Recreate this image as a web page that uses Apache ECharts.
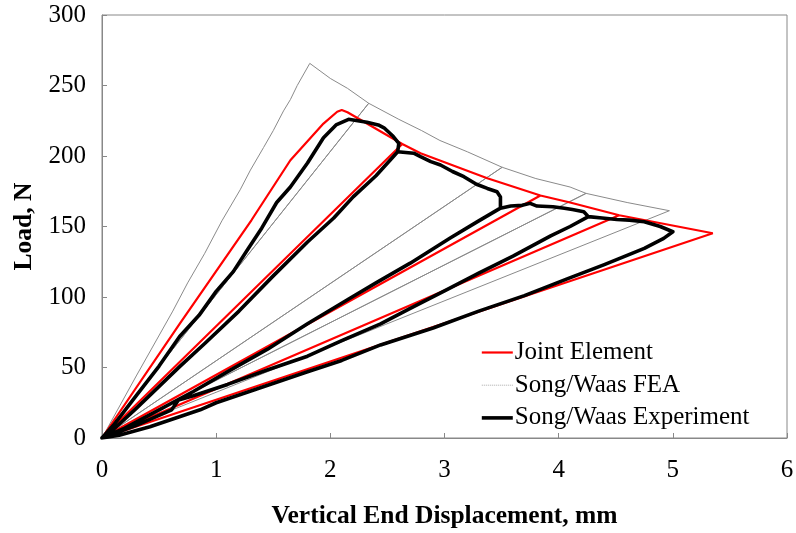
<!DOCTYPE html>
<html>
<head>
<meta charset="utf-8">
<script src="https://cdn.jsdelivr.net/npm/echarts@6/dist/echarts.min.js"></script>
<style>
  html, body { margin: 0; padding: 0; background: #fff; }
  #main { width: 796px; height: 533px; }
</style>
</head>
<body>
<div id="main"></div>
<script>
// axis ticks
var xTicks = [0, 1, 2, 3, 4, 5, 6];
var yTicks = [0, 50, 100, 150, 200, 250, 300];

// Joint Element (red) - load / unload cycles, [displacement mm, load N]
var jointElement = [
  [0, 0], [0.68, 81], [1.31, 154.6], [1.65, 197], [1.94, 223], [2.06, 231.4], [2.10, 232.6], [2.15, 231],
  [2.63, 208.5], [0, 0], [2.63, 208.5],
  [2.79, 202], [3.375, 184.2], [3.84, 172], [0, 0], [3.84, 172],
  [4.1, 167], [4.53, 158], [0, 0], [4.53, 158],
  [5.35, 145.2], [0, 0]
];

// Song/Waas FEA (thin grey)
var songWaasFea = [
  [0, 0], [0.3, 44], [0.62, 90], [0.75, 110], [0.9, 131], [1.05, 154], [1.21, 176], [1.3, 190],
  [1.415, 206], [1.5, 218], [1.59, 232], [1.65, 240], [1.71, 250], [1.82, 265.7],
  [2.0, 255], [2.15, 248], [2.336, 237.4], [0, 0], [2.336, 237.4],
  [2.6, 226], [2.8, 218], [2.96, 211], [3.2, 203], [3.505, 192], [0, 0], [3.505, 192],
  [3.8, 184], [4.1, 178], [4.24, 173.5], [0, 0], [4.24, 173.5],
  [4.6, 167], [4.97, 161.2], [0, 0]
];

// Song/Waas Experiment (thick black)
var expLoad1 = [
  [0, 0], [0.1, 9], [0.3, 30], [0.5, 51], [0.68, 72], [0.85, 87], [1.0, 104], [1.15, 118], [1.27, 133],
  [1.4, 149], [1.53, 167], [1.65, 178], [1.80, 195], [1.94, 213], [2.05, 222], [2.16, 226],
  [2.32, 224], [2.42, 222], [2.47, 220], [2.55, 214], [2.60, 209], [2.59, 203]
];
var expLine2 = [
  [2.59, 203], [2.4, 186], [2.2, 171], [2.03, 156], [1.8, 139], [1.5, 115], [1.2, 90],
  [0.9, 67], [0.68, 50.6], [0.3, 21], [0.1, 6], [0, 0]
];
var expEnv2 = [
  [2.59, 203], [2.73, 202], [2.79, 199.5], [2.88, 196], [2.965, 193.6], [3.07, 189], [3.17, 185.3],
  [3.28, 180], [3.375, 177], [3.46, 174.7], [3.49, 171], [3.49, 163]
];
var expLine3 = [
  [3.49, 163], [3.3, 154], [3.05, 141.8], [2.7, 124], [2.4, 110], [2.15, 98], [1.8, 81],
  [1.45, 63], [1.12, 48], [0.8, 33], [0.5, 20], [0.2, 7], [0, 0]
];
var expEnv3 = [
  [3.49, 163], [3.58, 164.5], [3.68, 165], [3.75, 166.4], [3.81, 164.5], [3.95, 164], [4.05, 163],
  [4.12, 162], [4.22, 160.5], [4.26, 157]
];
var expLine4 = [
  [4.26, 157], [4.1, 150], [3.93, 143.3], [3.6, 129], [3.3, 117], [3.0, 104.4], [2.7, 92],
  [2.44, 81], [2.1, 69], [1.8, 58], [1.44, 48], [1.1, 38], [0.8, 30], [0.67, 27], [0.61, 20],
  [0.3, 9], [0.1, 3], [0, 0]
];
var expEnv4 = [
  [4.26, 157], [4.38, 156], [4.51, 155], [4.62, 154.5], [4.75, 153.4], [4.89, 150], [5.0, 146.3]
];
var expLine5 = [
  [5.0, 146.3], [4.92, 141.6], [4.75, 134.5], [4.4, 123], [4.08, 113], [3.7, 101], [3.3, 90],
  [2.9, 78], [2.44, 66], [2.1, 55], [1.8, 47], [1.4, 36], [1.0, 25], [0.86, 20], [0.42, 8],
  [0.15, 2], [0, 0]
];

function rev(a) { return a.slice().reverse(); }

var experiment = [].concat(
  expLoad1, expLine2, rev(expLine2), expEnv2,
  expLine3, rev(expLine3), expEnv3,
  expLine4, rev(expLine4), expEnv4,
  expLine5
);

var serif = 'Liberation Serif';
var chart = echarts.init(document.getElementById('main'));

chart.setOption({
  animation: false,
  backgroundColor: '#fff',
  grid: {
    left: 102, right: 9, top: 15, bottom: 95,
    containLabel: false, outerBoundsMode: 'none',
    show: true, borderColor: '#888', borderWidth: 1
  },
  legend: {
    orient: 'vertical',
    left: 475, top: 335,
    itemWidth: 31, itemHeight: 14, itemGap: 7.7,
    itemStyle: { opacity: 0 },
    textStyle: { fontFamily: serif, fontSize: 25, color: '#000', padding: [0, 0, 0, -3] },
    data: [
      { name: 'Joint Element', lineStyle: { width: 2.2 } },
      { name: 'Song/Waas FEA', lineStyle: { width: 1, type: 'dotted', color: '#aaa' } },
      { name: 'Song/Waas Experiment', lineStyle: { width: 3.6 } }
    ]
  },
  xAxis: {
    type: 'value', min: xTicks[0], max: xTicks[xTicks.length - 1], interval: 1,
    name: 'Vertical End Displacement, mm',
    nameLocation: 'middle', nameGap: 65,
    nameTextStyle: { fontFamily: serif, fontSize: 25.5, fontWeight: 'bold', color: '#000' },
    axisLine: { lineStyle: { color: '#888' } },
    axisTick: { inside: true, length: 5, lineStyle: { color: '#888' } },
    axisLabel: { fontFamily: serif, fontSize: 25, color: '#000', margin: 20 },
    splitLine: { show: false }
  },
  yAxis: {
    type: 'value', min: yTicks[0], max: yTicks[yTicks.length - 1], interval: 50,
    name: 'Load, N',
    nameLocation: 'middle', nameGap: 57, nameRotate: 90,
    nameTextStyle: { fontFamily: serif, fontSize: 25.5, fontWeight: 'bold', color: '#000' },
    axisLine: { lineStyle: { color: '#888' } },
    axisTick: { inside: true, length: 5, lineStyle: { color: '#888' } },
    axisLabel: { fontFamily: serif, fontSize: 25, color: '#000', margin: 16 },
    splitLine: { show: false }
  },
  series: [
    {
      name: 'Joint Element', type: 'line', data: jointElement,
      symbol: 'none', z: 3,
      lineStyle: { color: '#ff0000', width: 2.2 },
      itemStyle: { color: '#ff0000' }
    },
    {
      name: 'Song/Waas FEA', type: 'line', data: songWaasFea,
      symbol: 'none', z: 2,
      lineStyle: { color: '#8a8a8a', width: 1 },
      itemStyle: { color: '#8a8a8a' }
    },
    {
      name: 'Song/Waas Experiment', type: 'line', data: experiment,
      symbol: 'none', z: 4,
      lineStyle: { color: '#000', width: 3.6, join: 'round' },
      itemStyle: { color: '#000' }
    }
  ]
});
</script>
</body>
</html>
